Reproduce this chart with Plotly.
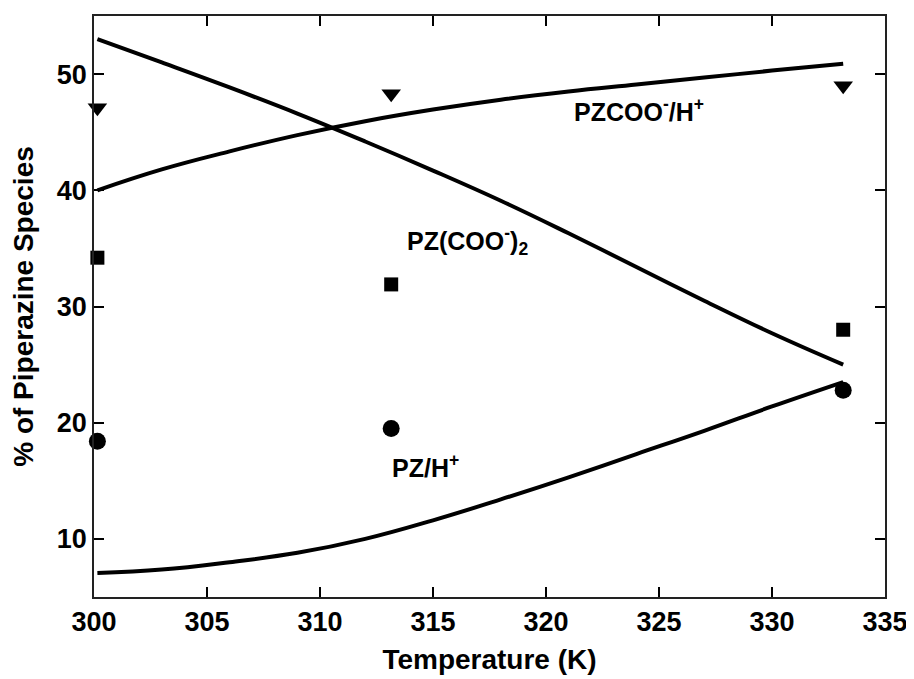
import plotly.graph_objects as go

# Experimental points (temperature in K)
t_exp = [300.15, 313.15, 333.15]
pzcoo_h_exp = [47.1, 48.3, 49.0]
pz_coo2_exp = [34.2, 31.9, 28.0]
pz_h_exp = [18.4, 19.5, 22.8]

# Model curves
t_model = [300.15, 303, 306, 309, 312, 315, 318, 321, 324, 327, 330, 333.15]
pzcoo_h_model = [40.0, 41.8, 43.35, 44.75, 45.95, 46.95, 47.8, 48.5, 49.1, 49.7, 50.3, 50.9]
pz_coo2_model = [53.0, 51.0, 48.85, 46.6, 44.2, 41.7, 39.1, 36.3, 33.4, 30.5, 27.7, 25.0]
pz_h_model = [7.06, 7.36, 8.0, 8.8, 10.0, 11.6, 13.4, 15.3, 17.3, 19.3, 21.4, 23.5]

x_ticks = [300, 305, 310, 315, 320, 325, 330, 335]
y_ticks = [10, 20, 30, 40, 50]

FONT = "Arial, 'Liberation Sans', sans-serif"

fig = go.Figure()
line_style = dict(color="black", width=4, shape="spline", smoothing=1.2)
for ys in (pzcoo_h_model, pz_coo2_model, pz_h_model):
    fig.add_trace(go.Scatter(x=t_model, y=ys, mode="lines", line=line_style,
                             showlegend=False, hoverinfo="skip"))

fig.add_trace(go.Scatter(x=t_exp, y=pzcoo_h_exp, mode="markers", cliponaxis=False,
                         marker=dict(symbol="triangle-down", size=17, color="black"),
                         showlegend=False))
fig.add_trace(go.Scatter(x=t_exp, y=pz_coo2_exp, mode="markers", cliponaxis=False,
                         marker=dict(symbol="square", size=14, color="black"),
                         showlegend=False))
fig.add_trace(go.Scatter(x=t_exp, y=pz_h_exp, mode="markers", cliponaxis=False,
                         marker=dict(symbol="circle", size=17, color="black"),
                         showlegend=False))

ann_font = dict(family=FONT, size=25, color="black", weight="bold")
labels = [
    (321.15, 46.9, "PZCOO<sup>-</sup>/H<sup>+</sup>"),
    (313.74, 35.6, "PZ(COO<sup>-</sup>)<sub>2</sub>"),
    (313.1, 16.3, "PZ/H<sup>+</sup>"),
]
for x, y, txt in labels:
    fig.add_annotation(x=x, y=y, text=txt, showarrow=False, xanchor="left",
                       yanchor="middle", font=ann_font)

axis_common = dict(
    showline=True, linecolor="#222222", linewidth=1.5, mirror="ticks",
    ticks="inside", ticklen=10, tickwidth=2, tickcolor="black",
    showgrid=False, zeroline=False,
    tickfont=dict(family=FONT, size=27, color="black", weight="bold"),
)

fig.update_xaxes(range=[300, 335], tickvals=x_ticks,
                 ticktext=[str(v) for v in x_ticks],
                 title=dict(text="Temperature (K)",
                            font=dict(family=FONT, size=28, color="black", weight="bold"),
                            standoff=13),
                 **axis_common)
fig.update_yaxes(range=[5, 55], tickvals=y_ticks,
                 ticktext=[str(v) for v in y_ticks],
                 title=dict(text="% of Piperazine Species",
                            font=dict(family=FONT, size=28, color="black", weight="bold"),
                            standoff=15),
                 **axis_common)

# the page body has an 8px default margin, so the figure is offset by 8px
fig.update_layout(
    width=906, height=671,
    margin=dict(l=86, r=27, t=6, b=82),
    plot_bgcolor="white", paper_bgcolor="white",
)

fig.write_html("out.html")
